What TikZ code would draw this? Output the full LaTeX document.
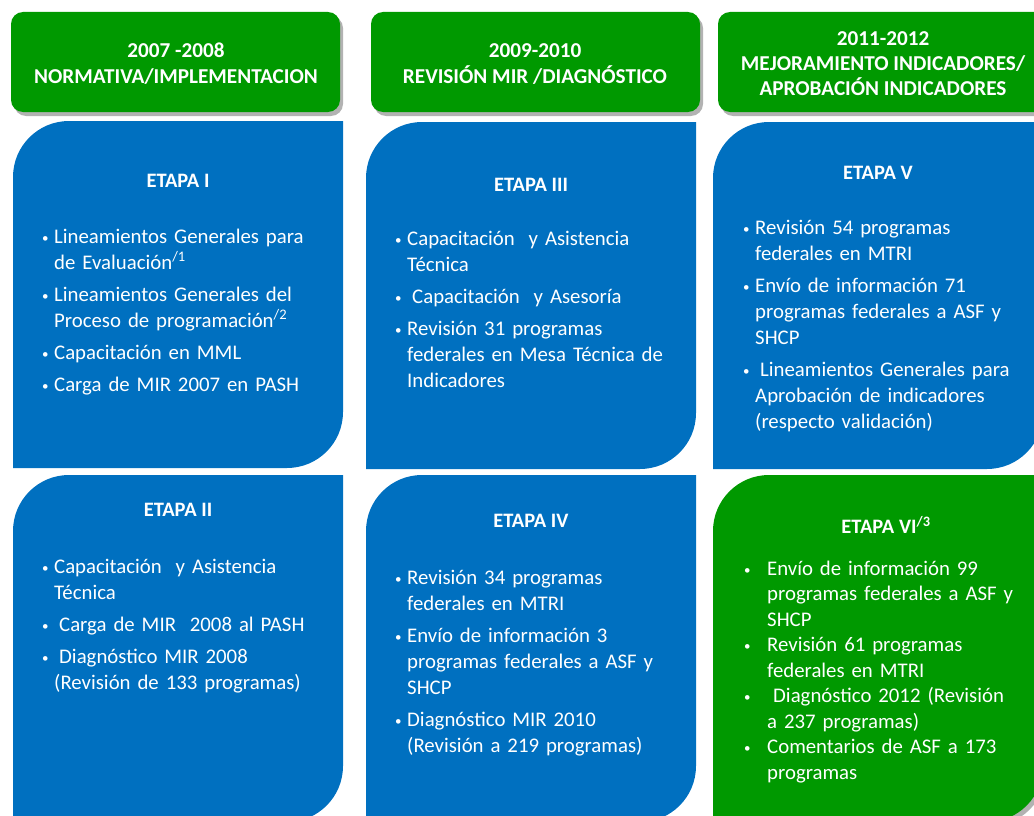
\documentclass[tikz,border=0pt]{standalone}
\usepackage{fontspec}
\setmainfont{Carlito}
\usetikzlibrary{shadows}
\definecolor{verde}{RGB}{0,153,0}
\definecolor{azul}{RGB}{0,112,192}
\newlength\bulind
\newcommand\bul[1]{\hangindent=\bulind\hangafter=1\noindent\makebox[\bulind][l]{\raisebox{1pt}{\fontsize{13}{13}\selectfont\textbullet}}#1\par}
\newcommand\nl{\newline}
% caja con esquinas redondeadas en diagonal
\newcommand\etapaforma[5]{\fill[#5] (#1,#4) -- (#1,#2+56) arc[start angle=180,end angle=270,radius=56] -- (#3,#2) -- (#3,#4-56) arc[start angle=0,end angle=90,radius=56] -- cycle;}
\begin{document}
\begin{tikzpicture}[x=1pt,y=-1pt,
  hdr/.style={text=white,font=\bfseries\fontsize{21.2}{26}\selectfont,align=center},
  tit/.style={text=white,font=\bfseries\fontsize{20.5}{24}\selectfont},
  lst/.style={text=white,font=\fontsize{20.8}{26}\selectfont,text width=330pt,inner sep=0pt,anchor=base west},
  sombra/.style={drop shadow={shadow xshift=3pt,shadow yshift=-4pt,opacity=.3,fill=black}}]
\useasboundingbox (0,0) rectangle (1034,816);
\clip (0,0) rectangle (1034,816);
\fill[white] (0,0) rectangle (1034,816);
% encabezados
\foreach \a/\b in {11/340,371/700,718/1048}{\fill[verde,rounded corners=12pt,sombra] (\a,12) rectangle (\b,112);}
\node[hdr] (h1) at (176,64) {2007 -2008\\NORMATIVA/IMPLEMENTACION};
\node[hdr] (h2) at (535,64) {2009-2010\\REVISIÓN MIR /DIAGNÓSTICO};
\node[hdr,font=\bfseries\fontsize{21.2}{25}\selectfont] (h3) at (883,64) {2011-2012\\MEJORAMIENTO INDICADORES/\\APROBACIÓN INDICADORES};
% etapas
\foreach \a/\b/\c/\d in {13/121/343/468,366/122/696/469,713/122/1043/469,13/475/343/822,366/475/696/822}{\etapaforma{\a}{\b}{\c}{\d}{azul}}
\etapaforma{713}{475}{1043}{822}{verde,sombra}
\node[tit] (e1) at (178,181) {ETAPA I};
\node[tit] (e3) at (531,185) {ETAPA III};
\node[tit] (e5) at (878,173) {ETAPA V};
\node[tit] (e2) at (178,510) {ETAPA II};
\node[tit] (e4) at (531,521) {ETAPA IV};
\node[tit] (e6) at (886,525) {ETAPA VI\textsuperscript{/3}};
\node[lst] (l1) at (42,243) {\setlength\bulind{12pt}\setlength\parskip{6pt}%
  \bul{Lineamientos Generales para\nl de Evaluación\textsuperscript{/1}}
  \bul{Lineamientos Generales del\nl Proceso de programación\textsuperscript{/2}}
  \bul{Capacitación en MML}
  \bul{Carga de MIR 2007 en PASH}};
\node[lst] (l3) at (395,245) {\setlength\bulind{12pt}\setlength\parskip{6pt}%
  \bul{Capacitación\ \ y Asistencia\nl Técnica}
  \bul{\hspace{5pt}Capacitación\ \ y Asesoría}
  \bul{Revisión 31 programas\nl federales en Mesa Técnica de\nl Indicadores}};
\node[lst] (l5) at (743,234) {\setlength\bulind{12pt}\setlength\parskip{6pt}%
  \bul{Revisión 54 programas\nl federales en MTRI}
  \bul{Envío de información 71\nl programas federales a ASF y\nl SHCP}
  \bul{\hspace{5pt}Lineamientos Generales para\nl Aprobación de indicadores\nl (respecto validación)}};
\node[lst] (l2) at (42,573) {\setlength\bulind{12pt}\setlength\parskip{6pt}%
  \bul{Capacitación\ \ y Asistencia\nl Técnica}
  \bul{\hspace{5pt}Carga de MIR\ \ 2008 al PASH}
  \bul{\hspace{5pt}Diagnóstico MIR 2008\nl (Revisión de 133 programas)}};
\node[lst] (l4) at (395,584) {\setlength\bulind{12pt}\setlength\parskip{6pt}%
  \bul{Revisión 34 programas\nl federales en MTRI}
  \bul{Envío de información 3\nl programas federales a ASF y\nl SHCP}
  \bul{Diagnóstico MIR 2010\nl (Revisión a 219 programas)}};
\node[lst,font=\fontsize{20.8}{25.5}\selectfont] (l6) at (744,575) {\setlength\bulind{23pt}\setlength\parskip{0pt}%
  \bul{Envío de información 99\nl programas federales a ASF y\nl SHCP}
  \bul{Revisión 61 programas\nl federales en MTRI}
  \bul{\hspace{6pt}Diagnóstico 2012 (Revisión\nl a 237 programas)}
  \bul{Comentarios de ASF a 173\nl programas}};
\end{tikzpicture}
\end{document}
